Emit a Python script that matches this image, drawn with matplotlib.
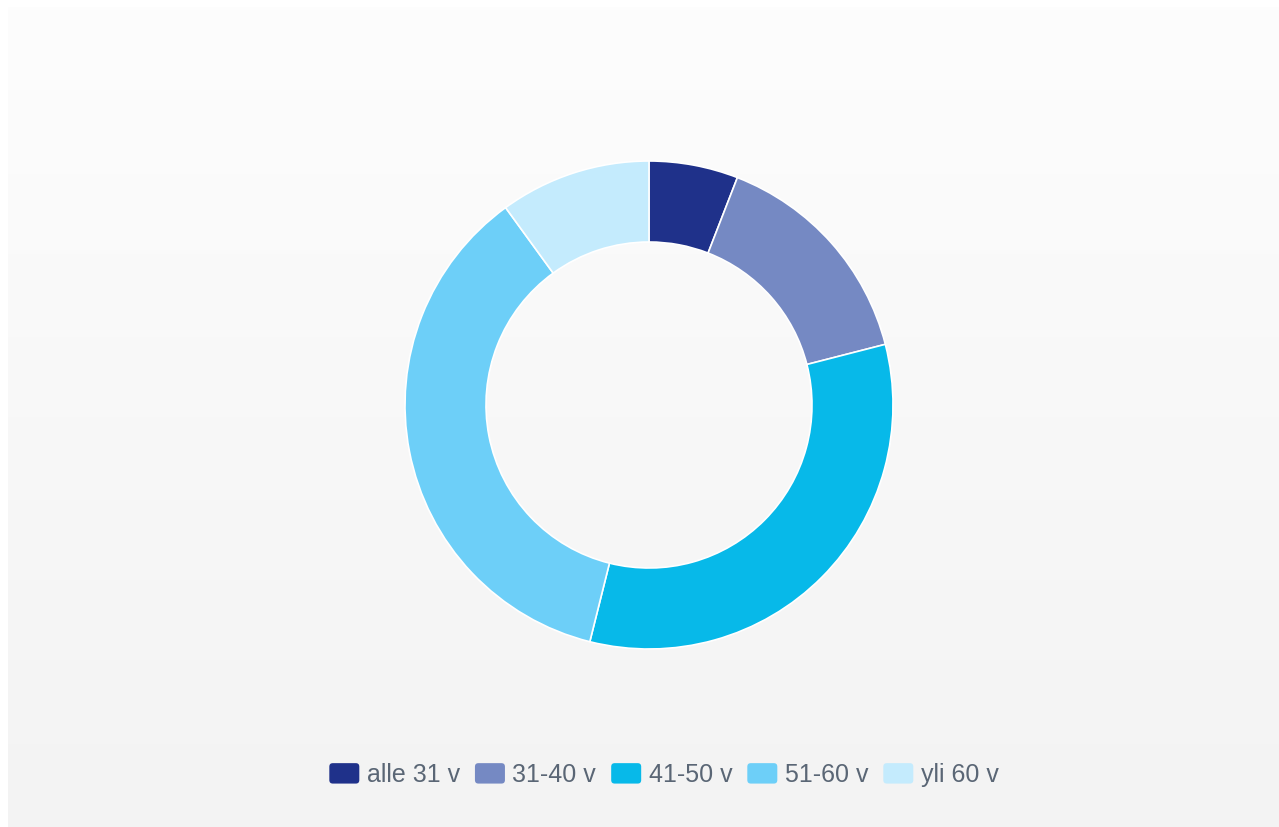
import numpy as np
import matplotlib
matplotlib.use("Agg")
import matplotlib.pyplot as plt
from matplotlib.patches import Patch, FancyBboxPatch
from matplotlib.legend_handler import HandlerPatch

categories = ["alle 31 v", "31-40 v", "41-50 v", "51-60 v", "yli 60 v"]
values = [5.9, 15.1, 32.9, 36.1, 10.0]
colors = ["#1f318a", "#7589c3", "#07b9e9", "#6dcff8", "#c4ebfd"]

W, H = 1279, 827
fig = plt.figure(figsize=(W / 100, H / 100), dpi=100)
fig.patch.set_facecolor("white")

# background panel with vertical gradient
bg = fig.add_axes([8 / W, 0, 1 - 8 / W, 1 - 7 / H])
grad = np.linspace(0, 1, 256).reshape(-1, 1)
top = np.array([0xfd, 0xfd, 0xfd]) / 255
bot = np.array([0xf3, 0xf3, 0xf3]) / 255
img = top + (bot - top) * grad[:, :, None]
bg.imshow(img, aspect="auto", extent=[0, 1, 0, 1], origin="upper")
bg.axis("off")

ax = fig.add_axes([0, 0, 1, 1])
ax.set_xlim(0, W)
ax.set_ylim(0, H)
ax.set_aspect("equal")
ax.axis("off")
ax.patch.set_alpha(0)

cx, cy, r = 649, H - 405, 244
ax.pie(values, colors=colors, startangle=90, counterclock=False,
       center=(cx, cy), radius=r, frame=True,
       wedgeprops=dict(width=81, edgecolor="white", linewidth=1.2))
ax.set_xlim(0, W)
ax.set_ylim(0, H)
ax.axis("off")


class RoundHandler(HandlerPatch):
    def create_artists(self, legend, orig_handle, xdescent, ydescent,
                       width, height, fontsize, trans):
        p = FancyBboxPatch((-xdescent, -ydescent), width, height,
                           boxstyle="round,pad=0,rounding_size=2.5",
                           facecolor=orig_handle.get_facecolor(),
                           edgecolor="none", transform=trans)
        return [p]


handles = [Patch(facecolor=c, edgecolor="none", label=l) for c, l in zip(colors, categories)]
leg = fig.legend(handles=handles, loc="center", ncol=5,
                 bbox_to_anchor=(664 / W, 1 - 775 / H),
                 frameon=False,
                 handlelength=1.2, handleheight=0.88,
                 handletextpad=0.3, columnspacing=0.6,
                 handler_map={Patch: RoundHandler()},
                 prop={"family": "Liberation Sans", "size": 18})
for t in leg.get_texts():
    t.set_color("#5a6675")

fig.savefig("out.png", dpi=100)
